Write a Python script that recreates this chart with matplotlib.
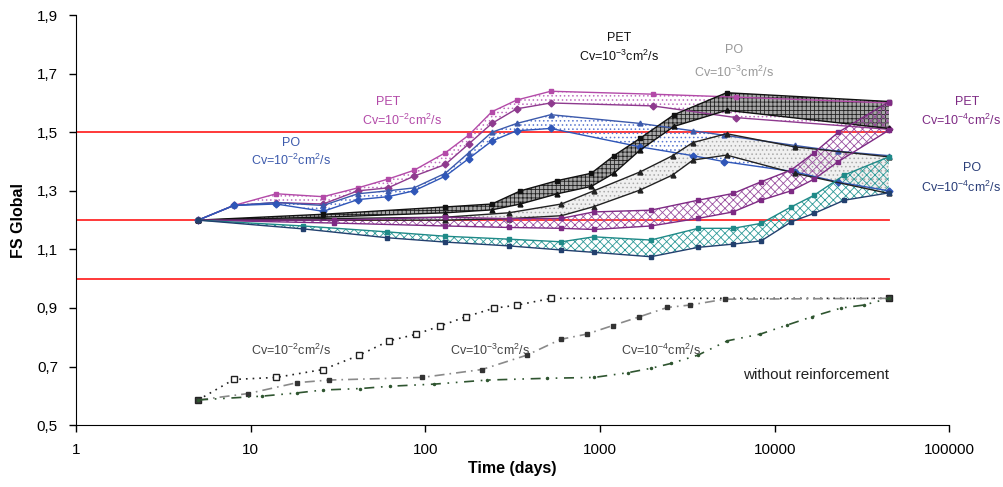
import matplotlib.pyplot as plt
from matplotlib.ticker import FixedLocator, FuncFormatter, NullLocator

plt.rcParams['font.family'] = ['Liberation Sans', 'DejaVu Sans']
plt.rcParams['mathtext.fontset'] = 'custom'
plt.rcParams['mathtext.rm'] = 'Liberation Sans'
plt.rcParams['hatch.linewidth'] = 0.6

# --- PET Cv=10^-2 (pink band)
pet2_days = [5, 8, 14, 26, 41, 61, 86, 130, 177, 240, 333, 522, 2000, 6000, 45000]
pet2_hi = [1.20, 1.25, 1.29, 1.28, 1.31, 1.34, 1.37, 1.43, 1.49, 1.57, 1.61, 1.64, 1.63, 1.62, 1.60]
pet2_lo = [1.20, 1.25, 1.26, 1.255, 1.30, 1.31, 1.35, 1.39, 1.46, 1.53, 1.58, 1.60, 1.59, 1.55, 1.51]

# --- PO Cv=10^-2 (blue band)
po2_days = [5, 8, 14, 26, 41, 61, 86, 130, 177, 240, 333, 522, 1700, 3400, 5100, 13000, 23000, 45000]
po2_hi = [1.20, 1.25, 1.26, 1.25, 1.29, 1.30, 1.31, 1.36, 1.43, 1.50, 1.53, 1.56, 1.53, 1.505, 1.49, 1.455, 1.435, 1.42]
po2_lo = [1.20, 1.25, 1.255, 1.23, 1.27, 1.28, 1.30, 1.35, 1.41, 1.47, 1.505, 1.513, 1.45, 1.42, 1.40, 1.365, 1.33, 1.30]

# --- PET Cv=10^-3 (black band)
pet3_days = [5, 26, 130, 240, 350, 570, 890, 1200, 1700, 2650, 5300, 45000]
pet3_hi = [1.20, 1.22, 1.245, 1.255, 1.30, 1.335, 1.36, 1.42, 1.48, 1.56, 1.635, 1.605]
pet3_lo = [1.20, 1.21, 1.225, 1.235, 1.255, 1.29, 1.315, 1.36, 1.44, 1.52, 1.575, 1.513]

# --- PO Cv=10^-3 (grey band)
po3_days = [5, 130, 300, 600, 920, 1700, 2600, 3400, 5300, 13000, 45000]
po3_hi = [1.20, 1.21, 1.225, 1.255, 1.30, 1.365, 1.42, 1.465, 1.495, 1.45, 1.416]
po3_lo = [1.20, 1.20, 1.205, 1.215, 1.246, 1.303, 1.354, 1.405, 1.422, 1.36, 1.291]

# --- PET Cv=10^-4 (purple band)
pet4_days = [5, 30, 130, 300, 600, 920, 1950, 3640, 5770, 8350, 12400, 16800, 23100, 45000]
pet4_hi = [1.20, 1.20, 1.21, 1.205, 1.206, 1.228, 1.234, 1.268, 1.291, 1.331, 1.371, 1.43, 1.50, 1.604]
pet4_lo = [1.20, 1.19, 1.18, 1.175, 1.172, 1.168, 1.18, 1.206, 1.228, 1.268, 1.30, 1.34, 1.40, 1.507]

# --- PO Cv=10^-4 (teal band)
po4_days = [5, 20, 60, 130, 300, 600, 920, 1950, 3640, 5770, 8350, 12400, 16800, 25000, 45000]
po4_hi = [1.20, 1.18, 1.16, 1.145, 1.135, 1.126, 1.143, 1.132, 1.172, 1.172, 1.189, 1.245, 1.285, 1.354, 1.416]
po4_lo = [1.20, 1.17, 1.14, 1.125, 1.112, 1.098, 1.09, 1.075, 1.107, 1.118, 1.129, 1.194, 1.223, 1.268, 1.293]

# --- without reinforcement
nr2_days = [5, 8, 14, 26, 41.5, 62, 88, 121, 170, 246, 336, 527, 45000]
nr2_fs = [0.586, 0.656, 0.663, 0.69, 0.738, 0.788, 0.81, 0.838, 0.87, 0.899, 0.91, 0.933, 0.933]
nr3_days = [5, 9.7, 18.4, 28, 96, 211, 381, 595, 842, 1180, 1680, 2430, 3270, 5170, 45000]
nr3_fs = [0.586, 0.608, 0.645, 0.654, 0.663, 0.69, 0.739, 0.793, 0.811, 0.84, 0.87, 0.902, 0.91, 0.93, 0.933]
nr4_days = [5, 11.6, 18.4, 26, 42.5, 63, 112, 226, 498, 926, 1440, 1950, 2560, 3630, 5360, 8270,
            11800, 16300, 24000, 32300, 45000]
nr4_fs = [0.586, 0.599, 0.61, 0.62, 0.625, 0.633, 0.64, 0.654, 0.66, 0.663, 0.679, 0.694, 0.711, 0.739,
          0.788, 0.811, 0.842, 0.87, 0.90, 0.91, 0.933]

limits = [1.5, 1.2, 1.0]
limit_days = [1, 45000]

fig = plt.figure(figsize=(10.04, 4.87), dpi=100)
ax = fig.add_axes([0.0757, 0.127, 0.87, 0.842])


def band(days, hi, lo, col_hi, col_lo, fill, hatch, m_hi, m_lo, fc='none'):
    ax.fill_between(days, lo, hi, facecolor=fc, edgecolor=fill, hatch=hatch, linewidth=0, zorder=2)
    ax.plot(days, hi, color=col_hi, lw=1.0, marker=m_hi, ms=3.5, zorder=3)
    ax.plot(days, lo, color=col_lo, lw=1.0, marker=m_lo, ms=3.5, zorder=3)


for v in limits:
    ax.plot(limit_days, [v, v], color='#ff2a2a', lw=1.3, zorder=1)

band(pet2_days, pet2_hi, pet2_lo, '#b34aa8', '#8e3a8e', '#c070c0', '....', 's', 'D')
band(po2_days, po2_hi, po2_lo, '#3c5aac', '#2f56b8', '#5a78d0', '....', '^', 'D')
band(pet3_days, pet3_hi, pet3_lo, '#111111', '#111111', '#222222', '++++', 's', '^', fc='#a8a8a8')
band(po3_days, po3_hi, po3_lo, '#222222', '#222222', '#aaaaaa', '....', '^', '^', fc='#f0f0f0')
band(pet4_days, pet4_hi, pet4_lo, '#7e2a84', '#7e2a84', '#9a50a0', 'xxxx', 's', 's')
band(po4_days, po4_hi, po4_lo, '#1f8a88', '#22406e', '#2e9a98', 'xxxx', 's', 's')

ax.plot(nr2_days, nr2_fs, color='#222222', ls=(0, (1, 3)), lw=1.2, marker='s', ms=4,
        mfc='white', mec='#222222', zorder=3)
ax.plot(nr3_days, nr3_fs, color='#8a8a8a', ls=(0, (6, 3, 1, 3)), lw=1.2, marker='s', ms=3,
        mfc='#333333', mec='#333333', zorder=3)
ax.plot(nr4_days, nr4_fs, color='#2f5530', ls=(0, (6, 4, 1, 4, 1, 4)), lw=1.2, marker='.', ms=3,
        zorder=3)

ax.set_xscale('log')
ax.set_xlim(1, 100000)
ax.set_ylim(0.5, 1.9)
ax.xaxis.set_major_locator(FixedLocator([1, 10, 100, 1000, 10000, 100000]))
ax.xaxis.set_minor_locator(NullLocator())
ax.xaxis.set_major_formatter(FuncFormatter(lambda v, p: '%d' % v))
ax.yaxis.set_major_locator(FixedLocator([0.5, 0.7, 0.9, 1.1, 1.3, 1.5, 1.7, 1.9]))
ax.yaxis.set_major_formatter(FuncFormatter(lambda v, p: ('%.1f' % v).replace('.', ',')))
ax.tick_params(labelsize=11, length=5, width=1, pad=8)
for s in ['top', 'right']:
    ax.spines[s].set_visible(False)
ax.set_xlabel('Time (days)', fontsize=11.5, fontweight='bold', labelpad=3)
ax.set_ylabel('FS Global', fontsize=11.5, fontweight='bold', labelpad=8)

cv = lambda e: r'Cv=10$^{-%d}$cm$^{2}$/s' % e
kw = dict(ha='center', va='center', fontsize=9)
ax.text(17, 1.463, 'PO', color='#3c5aac', **kw)
ax.text(17, 1.405, cv(2), color='#3c5aac', **kw)
ax.text(61, 1.603, 'PET', color='#b34aa8', **kw)
ax.text(74, 1.541, cv(2), color='#b34aa8', **kw)
ax.text(1280, 1.821, 'PET', color='#111111', **kw)
ax.text(1280, 1.76, cv(3), color='#111111', **kw)
ax.text(5870, 1.78, 'PO', color='#999999', **kw)
ax.text(5870, 1.705, cv(3), color='#999999', **kw)
ax.text(17, 0.756, cv(2), color='#444444', **kw)
ax.text(236, 0.756, cv(3), color='#444444', **kw)
ax.text(2230, 0.756, cv(4), color='#444444', **kw)
ax.text(17200, 0.671, 'without reinforcement', color='#222222', ha='center', va='center', fontsize=11)

# right-hand labels, placed in figure coordinates near the edge
fig.text(0.963, 1 - 102 / 487, 'PET', color='#7e2a84', ha='center', va='center', fontsize=9)
fig.text(0.997, 1 - 120 / 487, cv(4), color='#7e2a84', ha='right', va='center', fontsize=9)
fig.text(0.968, 1 - 168 / 487, 'PO', color='#2a3e78', ha='center', va='center', fontsize=9)
fig.text(0.997, 1 - 187 / 487, cv(4), color='#2a3e78', ha='right', va='center', fontsize=9)

fig.savefig('out.png', dpi=100)
